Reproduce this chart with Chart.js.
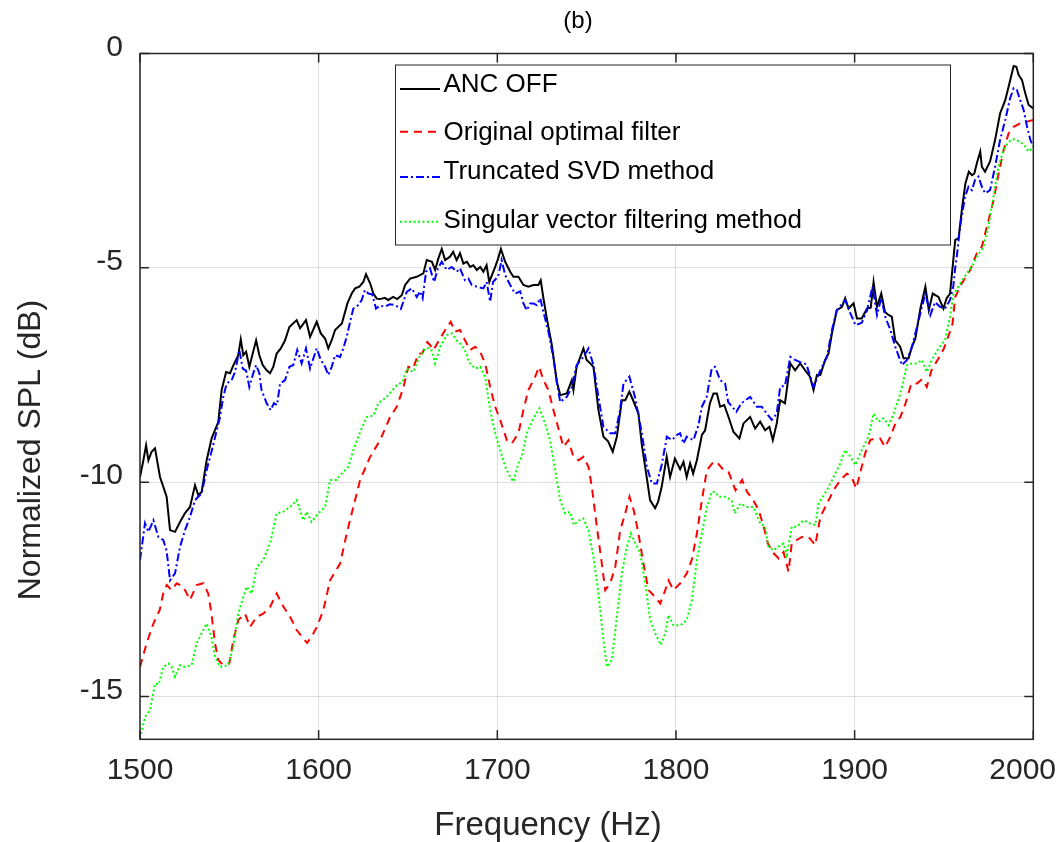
<!DOCTYPE html>
<html>
<head>
<meta charset="utf-8">
<title>Normalized SPL (b)</title>
<script src="https://cdn.jsdelivr.net/npm/chart.js@4.4.1/dist/chart.umd.min.js"></script>
<style>
  html, body { margin: 0; padding: 0; background: #ffffff; overflow: hidden; }
  canvas { display: block; }
</style>
</head>
<body>
<canvas id="spl" width="1059" height="842"></canvas>
<script>
// Axis ticks and texts
const xTicks = [1500, 1600, 1700, 1800, 1900, 2000];
const yTicks = [-15, -10, -5, 0];
const chartTitle = '(b)';
const xAxisTitle = 'Frequency (Hz)';
const yAxisTitle = 'Normalized SPL (dB)';
const seriesNames = ['ANC OFF', 'Original optimal filter', 'Truncated SVD method', 'Singular vector filtering method'];

// Measured spectra: [frequency (Hz), normalized SPL (dB)]
const ancOff = [[1500,-9.88],[1501.9,-9.49],[1503.4,-9.14],[1504.7,-9.49],[1506.5,-9.29],[1508.4,-9.21],[1511.2,-9.88],[1514.9,-10.34],[1516.8,-11.12],[1519.6,-11.16],[1522.4,-10.93],[1525.2,-10.72],[1528,-10.58],[1530.8,-10.07],[1532.6,-10.30],[1534.5,-10.23],[1537.3,-9.49],[1540.1,-8.98],[1543.8,-8.6],[1545.7,-7.85],[1548.2,-7.43],[1550.4,-7.46],[1552.3,-7.27],[1555,-7.04],[1556.4,-6.67],[1557.8,-7.04],[1559.4,-6.96],[1561.2,-7.31],[1563.1,-7.0],[1565,-6.69],[1566.8,-7.04],[1568.7,-7.27],[1570.9,-7.39],[1572.8,-7.46],[1574.6,-7.31],[1576.5,-7.0],[1578.8,-6.88],[1581.2,-6.69],[1583.6,-6.38],[1587.7,-6.22],[1589.6,-6.41],[1592.9,-6.22],[1595.2,-6.61],[1598.9,-6.26],[1601.2,-6.53],[1603.6,-6.65],[1605.4,-6.88],[1607.3,-6.69],[1609.2,-6.45],[1613,-6.30],[1616.1,-5.83],[1618.5,-5.60],[1620.4,-5.48],[1622.8,-5.44],[1625,-5.33],[1626.5,-5.15],[1628.8,-5.36],[1630.6,-5.6],[1632.5,-5.72],[1634.4,-5.73],[1637,-5.70],[1639,-5.75],[1641.7,-5.68],[1644,-5.73],[1646.5,-5.64],[1648.4,-5.40],[1651.2,-5.25],[1654.9,-5.21],[1658.6,-5.13],[1660.5,-4.82],[1663.4,-4.86],[1665.2,-5.05],[1667,-4.78],[1668.9,-4.56],[1670.8,-4.82],[1673.5,-4.74],[1675.3,-4.63],[1677.2,-4.82],[1679.1,-4.66],[1681,-4.90],[1683,-4.86],[1684.8,-4.98],[1686.6,-4.94],[1688.5,-5.05],[1690.4,-4.98],[1692.2,-5.09],[1694,-4.94],[1695.5,-5.33],[1697,-5.17],[1698.8,-4.98],[1700.5,-4.78],[1702,-4.56],[1704.4,-4.86],[1707.2,-5.09],[1709,-5.21],[1711.8,-5.21],[1714.6,-5.40],[1717.4,-5.44],[1720.2,-5.40],[1723,-5.40],[1724.3,-5.29],[1725.8,-5.71],[1727.7,-6.18],[1730.5,-6.80],[1733.3,-7.66],[1735.2,-7.97],[1738.9,-7.93],[1741.7,-7.62],[1742.6,-7.85],[1744.4,-7.31],[1748.2,-6.88],[1750,-7.15],[1752,-7.23],[1753.8,-7.31],[1756.6,-8.32],[1759.4,-8.94],[1762,-9.05],[1764.6,-9.29],[1766.9,-8.94],[1769.7,-8.09],[1771.6,-8.09],[1773.9,-7.89],[1776,-8.09],[1779,-8.40],[1780.8,-9.10],[1783.6,-9.88],[1785.5,-10.42],[1788.3,-10.61],[1790,-10.46],[1792,-10.11],[1794.8,-9.41],[1796.7,-9.88],[1799.4,-9.45],[1802.3,-9.7],[1804.2,-9.53],[1806,-9.88],[1807.9,-9.56],[1809.6,-9.80],[1811.7,-9.49],[1814.5,-8.90],[1816.3,-8.79],[1819,-8.16],[1821,-7.93],[1822.9,-7.93],[1824.7,-8.24],[1827,-8.20],[1829.4,-8.48],[1832.2,-8.83],[1835.5,-8.98],[1837.8,-8.63],[1841.5,-8.48],[1844.3,-8.75],[1847.1,-8.59],[1849.9,-8.79],[1852.3,-8.71],[1854.2,-9.02],[1856.4,-8.63],[1858.3,-8.09],[1861,-8.16],[1864,-7.23],[1866.7,-7.39],[1869.5,-7.23],[1872.3,-7.39],[1875,-7.54],[1877,-7.85],[1878.9,-7.50],[1880.8,-7.50],[1883.5,-7.15],[1885.4,-7.0],[1887.3,-6.53],[1890,-5.99],[1892.9,-5.91],[1894.7,-5.71],[1896.6,-5.95],[1899.4,-5.83],[1901.3,-6.18],[1904,-6.18],[1906.9,-5.95],[1909,-5.93],[1910.6,-5.33],[1912.5,-5.91],[1914.9,-5.60],[1917,-6.03],[1919,-6.10],[1920.8,-6.14],[1922.7,-6.69],[1925.5,-6.84],[1927.4,-7.11],[1930.2,-7.11],[1932.1,-6.84],[1934,-6.65],[1936.8,-5.95],[1939.6,-5.44],[1941.5,-5.99],[1943.7,-5.60],[1946.9,-5.68],[1949.7,-5.95],[1951.5,-5.71],[1953.4,-5.60],[1954.5,-5.13],[1956.3,-4.35],[1958.2,-4.31],[1960.2,-3.58],[1962,-3.03],[1963.9,-2.76],[1965.7,-2.84],[1967,-2.80],[1968.4,-2.56],[1970.3,-2.29],[1971.2,-2.64],[1973,-2.76],[1975.8,-2.52],[1978.6,-2.02],[1981.4,-1.40],[1984.3,-1.09],[1986.2,-0.77],[1988,-0.46],[1989,-0.29],[1990.5,-0.31],[1991.8,-0.50],[1993.7,-0.62],[1995.5,-0.93],[1997.4,-1.20],[2000,-1.28]];

const originalFilter = [[1500,-14.31],[1503.7,-13.76],[1507.5,-13.30],[1511,-12.99],[1513,-12.60],[1515,-12.40],[1517.7,-12.52],[1520.5,-12.36],[1524.2,-12.44],[1528,-12.75],[1531.7,-12.40],[1535.4,-12.36],[1538.2,-12.60],[1540,-13.07],[1542,-13.76],[1543.8,-14.15],[1546.6,-14.27],[1550,-14.23],[1552.2,-13.69],[1555,-13.22],[1558.8,-13.07],[1561.6,-13.38],[1565.3,-13.14],[1569,-13.07],[1572.8,-12.91],[1576.5,-12.60],[1580.3,-12.91],[1584,-13.14],[1587.7,-13.45],[1591.4,-13.65],[1593.5,-13.75],[1596,-13.61],[1599,-13.38],[1602.6,-12.99],[1606.4,-12.29],[1612,-11.90],[1615.7,-11.20],[1619.4,-10.58],[1623.2,-9.95],[1628.8,-9.41],[1634.4,-9.02],[1640,-8.48],[1643.7,-8.24],[1647.4,-7.8],[1650.2,-7.31],[1652.9,-7.35],[1655.8,-7.0],[1658,-7.0],[1660.8,-6.73],[1662.3,-6.80],[1664.2,-6.92],[1668,-6.65],[1670.8,-6.45],[1673.9,-6.26],[1676.3,-6.49],[1679.1,-6.45],[1681.9,-6.69],[1684.8,-6.92],[1687.6,-6.84],[1690.4,-6.96],[1693.2,-7.23],[1696,-7.78],[1698.8,-8.24],[1701.6,-8.55],[1705.3,-9.02],[1708.1,-9.10],[1711.8,-8.86],[1714.6,-8.32],[1717.4,-7.85],[1721.2,-7.54],[1723.4,-7.31],[1725.8,-7.62],[1728.6,-7.85],[1731.4,-8.32],[1734.2,-8.75],[1737,-9.18],[1739.8,-9.02],[1742.6,-9.41],[1745.4,-9.49],[1748.2,-9.41],[1751,-9.64],[1752.9,-10.11],[1755.7,-11.04],[1758.5,-11.90],[1760.4,-12.52],[1763.2,-12.36],[1766,-11.98],[1768.8,-11.12],[1771.6,-10.73],[1774,-10.34],[1776.3,-10.65],[1779,-11.20],[1781.8,-11.90],[1784.6,-12.52],[1787.4,-12.64],[1791.2,-12.83],[1794,-12.52],[1795.8,-12.29],[1798.6,-12.52],[1802.4,-12.36],[1806,-12.13],[1808.8,-11.82],[1811.7,-11.20],[1814.5,-10.42],[1817.3,-9.72],[1821,-9.53],[1822.9,-9.53],[1826.6,-9.72],[1829.4,-9.76],[1833.3,-10.19],[1837,-9.95],[1839.8,-10.23],[1842.6,-10.38],[1846.3,-10.65],[1849.1,-11.04],[1851.4,-11.43],[1854.7,-11.66],[1857.5,-11.78],[1860.2,-11.63],[1863,-12.09],[1864.8,-11.43],[1867.6,-11.35],[1870.5,-11.28],[1874.2,-11.28],[1878,-11.47],[1880.8,-10.81],[1884.5,-10.50],[1888.2,-10.19],[1892,-9.95],[1895.7,-9.80],[1898.5,-9.90],[1900.9,-10.15],[1903,-9.80],[1905.9,-9.33],[1908.7,-9.02],[1911.5,-8.98],[1914.3,-8.98],[1917,-9.18],[1920,-8.94],[1922.8,-8.63],[1925.6,-8.48],[1928.5,-8.16],[1931.7,-7.70],[1934.9,-7.70],[1937.7,-7.60],[1940.4,-7.78],[1943,-7.39],[1947,-7.11],[1950,-6.88],[1953,-6.53],[1954.8,-6.30],[1956.3,-5.68],[1960,-5.36],[1964.7,-5.05],[1968.4,-4.66],[1971.2,-4.51],[1974,-4.04],[1977.8,-3.42],[1980.6,-2.80],[1983.4,-2.25],[1986.2,-1.86],[1989,-1.71],[1992.7,-1.63],[1996.5,-1.59],[2000,-1.55]];

const truncatedSvd = [[1500,-11.82],[1502.8,-10.96],[1504.7,-11.16],[1507.5,-10.89],[1510.3,-11.28],[1513,-11.35],[1514.9,-11.6],[1516.8,-12.29],[1519.6,-12.13],[1522.4,-11.51],[1525.2,-11.12],[1528,-10.81],[1530.8,-10.42],[1534.5,-10.26],[1537.3,-9.72],[1540,-9.29],[1543,-8.79],[1544.8,-8.48],[1546.6,-8.01],[1548.5,-7.70],[1551.3,-7.62],[1553.2,-7.43],[1555.6,-6.92],[1557.5,-7.35],[1559.4,-7.40],[1561.2,-7.78],[1563.4,-7.46],[1565,-7.27],[1566.8,-7.46],[1568,-7.85],[1570.9,-8.16],[1573.1,-8.32],[1575,-8.16],[1576.7,-8.20],[1578.4,-7.70],[1581.2,-7.62],[1583.6,-7.31],[1585.8,-7.27],[1588,-6.92],[1590.5,-7.23],[1592.9,-6.88],[1595.2,-7.35],[1597,-7.12],[1598.9,-6.88],[1601.2,-7.15],[1603.6,-7.31],[1605.4,-7.50],[1607.3,-7.31],[1609.2,-7.04],[1612,-7.08],[1613.8,-6.88],[1615.7,-6.61],[1617.6,-6.26],[1619.4,-5.95],[1622.2,-5.87],[1624.1,-5.75],[1625.9,-5.52],[1627.8,-5.60],[1630,-5.62],[1632.1,-5.95],[1634.4,-5.88],[1637,-5.91],[1639.8,-5.85],[1642.8,-5.87],[1646,-5.96],[1647.5,-5.78],[1649.3,-5.56],[1652.1,-5.48],[1654.9,-5.68],[1656.8,-5.55],[1658.2,-5.71],[1660.1,-5.09],[1662.3,-5.01],[1664.6,-5.33],[1666.8,-5.01],[1668.9,-4.86],[1671.7,-5.05],[1674.5,-4.98],[1677.3,-5.09],[1679.1,-5.01],[1681.9,-5.29],[1683.8,-5.25],[1685.7,-5.40],[1688.5,-5.44],[1692.2,-5.48],[1694,-5.33],[1696,-5.79],[1697.6,-5.33],[1700.5,-5.20],[1702.4,-4.82],[1704.4,-5.17],[1707.2,-5.40],[1709.9,-5.60],[1712.8,-5.55],[1714.6,-5.83],[1716.5,-5.99],[1718.4,-5.83],[1720.2,-5.83],[1722.1,-5.87],[1724,-5.71],[1725.8,-6.03],[1728.6,-6.49],[1731.4,-7.11],[1733.3,-7.66],[1735.2,-8.13],[1738.9,-8.01],[1741.7,-7.78],[1744.4,-7.27],[1748.2,-7.08],[1751,-6.88],[1753.8,-7.27],[1756.6,-8.01],[1759.4,-8.71],[1763.2,-8.86],[1766,-8.86],[1768.7,-8.32],[1770.6,-7.70],[1773.9,-7.54],[1777,-8.01],[1780.9,-8.86],[1783.7,-9.64],[1786.5,-10.03],[1789.3,-10.03],[1792,-9.60],[1794.9,-8.94],[1797.7,-9.02],[1800.5,-8.90],[1802.3,-8.86],[1804.2,-9.10],[1806,-8.94],[1807.9,-8.98],[1809.8,-9.02],[1812.6,-8.67],[1814.5,-8.24],[1817.2,-8.01],[1820,-7.35],[1821.9,-7.31],[1824.7,-7.62],[1827.5,-7.70],[1829.2,-8.13],[1833.8,-8.36],[1836.6,-8.16],[1841.5,-8.01],[1845.2,-8.24],[1848,-8.24],[1850.8,-8.40],[1853.6,-8.55],[1856.4,-8.40],[1858.3,-7.78],[1861,-7.75],[1864,-7.08],[1866.7,-7.15],[1869.5,-7.20],[1873,-7.25],[1877,-7.78],[1880.8,-7.39],[1884.5,-7.08],[1887.3,-6.45],[1890,-5.99],[1894.7,-5.75],[1897.5,-6.05],[1900.5,-6.34],[1904,-6.28],[1906.9,-6.0],[1910,-5.44],[1912.5,-6.10],[1914.9,-5.71],[1917.2,-6.15],[1920,-6.45],[1922.7,-6.84],[1926.5,-7.27],[1929.3,-7.15],[1932.1,-6.84],[1936.8,-6.06],[1939.6,-5.60],[1942.4,-6.10],[1945,-5.80],[1947.8,-5.91],[1950.6,-5.95],[1953.4,-5.75],[1955.2,-5.44],[1956.3,-5.0],[1957.4,-4.66],[1959,-4.04],[1961.8,-3.34],[1963.7,-3.11],[1965.6,-3.19],[1967.4,-2.95],[1969.3,-2.87],[1971.2,-3.11],[1973,-3.26],[1975.8,-3.19],[1978.6,-2.64],[1981.4,-2.02],[1984.3,-1.55],[1987,-1.05],[1989,-0.81],[1990.8,-0.85],[1992.7,-1.09],[1994.6,-1.32],[1996.5,-1.71],[1998.4,-2.02],[2000,-2.17]];

const singularVector = [[1500,-15.98],[1502.8,-15.48],[1505.6,-15.32],[1508.4,-14.70],[1510.5,-14.72],[1513,-14.31],[1516,-14.23],[1517.7,-14.31],[1519.6,-14.54],[1522.4,-14.27],[1525,-14.31],[1528.9,-14.27],[1531.7,-13.76],[1534.5,-13.53],[1537.3,-13.30],[1540,-13.61],[1542,-14.08],[1544.8,-14.31],[1549.4,-14.27],[1552.2,-13.84],[1555,-13.07],[1557.8,-12.68],[1559.7,-12.44],[1562.5,-12.60],[1565.3,-11.98],[1569,-11.82],[1572.8,-11.43],[1576.5,-10.73],[1580.2,-10.69],[1584,-10.58],[1587.7,-10.42],[1591.4,-10.89],[1593.3,-10.69],[1596,-10.93],[1599.8,-10.73],[1603.6,-10.58],[1606.4,-9.95],[1610,-9.95],[1612.9,-9.80],[1616.6,-9.64],[1619.4,-9.25],[1623.2,-8.83],[1626.9,-8.48],[1630.6,-8.45],[1633.4,-8.16],[1638.1,-8.01],[1643.7,-7.74],[1647,-7.66],[1649.3,-7.35],[1652.9,-7.43],[1656.8,-7.04],[1660.5,-6.86],[1663,-6.90],[1665.2,-7.23],[1668,-6.84],[1669.5,-6.73],[1671.7,-6.57],[1674.6,-6.53],[1677.3,-6.69],[1680,-6.80],[1682.8,-7.0],[1683.8,-7.19],[1687.6,-7.35],[1690.4,-7.31],[1693.2,-7.54],[1696,-8.32],[1698.8,-8.86],[1701.6,-9.25],[1704.4,-9.64],[1707.2,-9.88],[1709,-9.99],[1711.8,-9.56],[1713.7,-9.41],[1716.5,-8.86],[1720.2,-8.51],[1723.6,-8.28],[1726.7,-8.63],[1729.5,-9.02],[1732.4,-9.72],[1735.2,-10.42],[1738,-10.73],[1740.8,-10.69],[1742.8,-11.0],[1745.5,-10.90],[1748.2,-10.85],[1751,-11.12],[1753.8,-11.74],[1756.6,-12.60],[1759,-13.53],[1761.3,-14.31],[1764.1,-14.15],[1766.9,-13.14],[1769.7,-12.13],[1772.5,-11.51],[1774.7,-11.20],[1777.3,-11.43],[1780,-11.66],[1782.8,-12.36],[1785.6,-13.22],[1788.4,-13.53],[1791.5,-13.80],[1794,-13.53],[1795.8,-13.10],[1798.6,-13.34],[1802.4,-13.34],[1806,-13.22],[1808.9,-12.75],[1811.7,-11.82],[1814.5,-11.20],[1817.3,-10.58],[1820,-10.23],[1822,-10.23],[1823.8,-10.34],[1827.5,-10.34],[1831.1,-10.42],[1833,-10.73],[1836,-10.50],[1839.8,-10.58],[1843.4,-10.58],[1847.1,-10.96],[1849.9,-11.04],[1851.8,-11.51],[1854.7,-11.59],[1857.5,-11.50],[1860.2,-11.43],[1862,-11.70],[1864.8,-11.04],[1867.6,-11.04],[1871.4,-10.89],[1875,-10.96],[1878,-11.0],[1879.8,-10.50],[1884.5,-10.19],[1888.2,-9.88],[1892,-9.56],[1894.7,-9.25],[1897.5,-9.40],[1900.3,-9.60],[1904,-9.25],[1907.8,-8.94],[1910.6,-8.40],[1913.4,-8.59],[1916.2,-8.51],[1919,-8.67],[1921.8,-8.40],[1925.6,-7.93],[1929.3,-7.27],[1932.1,-7.23],[1934.9,-7.23],[1937.7,-7.15],[1940.4,-7.43],[1943.2,-7.15],[1946.9,-6.88],[1950.6,-6.69],[1953.4,-6.14],[1955.2,-5.64],[1958,-5.44],[1962.8,-5.13],[1966.7,-4.90],[1968.4,-4.74],[1972.1,-4.51],[1974.9,-4.04],[1977.7,-3.34],[1980.5,-2.64],[1983.3,-2.25],[1986.2,-2.06],[1989,-2.0],[1992.7,-2.06],[1995.5,-2.17],[1997.4,-2.29],[2000,-2.17]];

const FONT = "'Liberation Sans', Arial, Helvetica, sans-serif";
const AXIS_INK = '#262626';

const toPoints = rows => rows.map(([f, db]) => ({ x: f, y: db }));

// Axes frame with inward tick marks, drawn over the curves
const axesFrame = {
  id: 'axesFrame',
  afterDatasetsDraw(chart) {
    const { ctx, chartArea: a, scales: { x, y } } = chart;
    const len = 9;
    ctx.save();
    ctx.strokeStyle = AXIS_INK;
    ctx.lineWidth = 1.5;
    ctx.strokeRect(a.left, a.top, a.right - a.left, a.bottom - a.top);
    ctx.beginPath();
    xTicks.forEach(v => {
      const px = x.getPixelForValue(v);
      ctx.moveTo(px, a.bottom); ctx.lineTo(px, a.bottom - len);
      ctx.moveTo(px, a.top); ctx.lineTo(px, a.top + len);
    });
    yTicks.forEach(v => {
      const py = y.getPixelForValue(v);
      ctx.moveTo(a.left, py); ctx.lineTo(a.left + len, py);
      ctx.moveTo(a.right, py); ctx.lineTo(a.right - len, py);
    });
    ctx.stroke();
    ctx.restore();
  }
};

// Boxed legend inside the plot, built from the chart's datasets
const boxedLegend = {
  id: 'boxedLegend',
  afterDraw(chart) {
    const { ctx } = chart;
    const box = { left: 395.5, top: 65, right: 950.5, bottom: 245 };
    const lineY = [89, 131.7, 177, 221.7];
    const textY = [91.7, 140, 179.3, 228.3];
    ctx.save();
    ctx.fillStyle = '#ffffff';
    ctx.fillRect(box.left, box.top, box.right - box.left, box.bottom - box.top);
    ctx.strokeStyle = AXIS_INK;
    ctx.lineWidth = 1;
    ctx.strokeRect(box.left, box.top, box.right - box.left, box.bottom - box.top);
    chart.data.datasets.forEach((ds, i) => {
      ctx.beginPath();
      ctx.strokeStyle = ds.borderColor;
      ctx.lineWidth = ds.borderWidth;
      ctx.setLineDash(ds.borderDash || []);
      ctx.moveTo(400, lineY[i]);
      ctx.lineTo(440, lineY[i]);
      ctx.stroke();
      ctx.setLineDash([]);
      ctx.fillStyle = '#000000';
      ctx.font = `26px ${FONT}`;
      ctx.textAlign = 'left';
      ctx.textBaseline = 'alphabetic';
      ctx.fillText(ds.label, 443.5, textY[i]);
    });
    ctx.restore();
  }
};

// Title, x tick labels and axis titles
const figureText = {
  id: 'figureText',
  afterDraw(chart) {
    const { ctx, scales: { x } } = chart;
    ctx.save();
    ctx.textAlign = 'center';
    ctx.textBaseline = 'middle';
    ctx.fillStyle = '#000000';
    ctx.font = `24px ${FONT}`;
    ctx.fillText(chartTitle, 578, 21);

    ctx.fillStyle = AXIS_INK;
    ctx.font = `30px ${FONT}`;
    xTicks.forEach(v => {
      const label = String(v);
      const w = ctx.measureText(label).width;
      const px = Math.min(x.getPixelForValue(v), chart.width - 3 - w / 2);
      ctx.fillText(label, px, 771);
    });

    ctx.font = `33px ${FONT}`;
    ctx.fillText(xAxisTitle, 548, 826);
    ctx.font = `32px ${FONT}`;
    ctx.translate(31, 450);
    ctx.rotate(-Math.PI / 2);
    ctx.fillText(yAxisTitle, 0, 0);
    ctx.restore();
  }
};

const series = [ancOff, originalFilter, truncatedSvd, singularVector];
const colors = ['#000000', '#ff0000', '#0000ff', '#00ff00'];
const dashes = [[], [8, 6], [8, 3, 2, 3], [2, 2.5]];

new Chart(document.getElementById('spl'), {
  type: 'line',
  data: {
    datasets: series.map((rows, i) => ({
      label: seriesNames[i],
      data: toPoints(rows),
      borderColor: colors[i],
      backgroundColor: colors[i],
      borderWidth: 2,
      borderDash: dashes[i],
      pointRadius: 0,
      tension: 0,
      fill: false,
      order: series.length - i
    }))
  },
  options: {
    responsive: false,
    devicePixelRatio: 1,
    animation: false,
    events: [],
    layout: { padding: { left: 0, right: 25.7, top: 53.5, bottom: 0 } },
    plugins: {
      legend: { display: false },
      title: { display: false },
      tooltip: { enabled: false }
    },
    scales: {
      x: {
        type: 'linear',
        min: 1500,
        max: 2000,
        afterBuildTicks: s => { s.ticks = xTicks.map(v => ({ value: v })); },
        afterFit: s => { s.height = 102.7; s.paddingLeft = 0; s.paddingRight = 0; },
        ticks: { display: false },
        grid: { color: 'rgba(38,38,38,0.15)', lineWidth: 1, drawTicks: false },
        border: { display: false }
      },
      y: {
        type: 'linear',
        min: -16,
        max: 0,
        afterBuildTicks: s => { s.ticks = yTicks.map(v => ({ value: v })); },
        afterFit: s => { s.width = 140; s.paddingTop = 0; s.paddingBottom = 0; },
        ticks: {
          font: { family: FONT, size: 30 },
          color: AXIS_INK,
          padding: 17,
          labelOffset: -6,
          callback: v => String(v)
        },
        grid: { color: 'rgba(38,38,38,0.15)', lineWidth: 1, drawTicks: false },
        border: { display: false }
      }
    }
  },
  plugins: [axesFrame, boxedLegend, figureText]
});
</script>
